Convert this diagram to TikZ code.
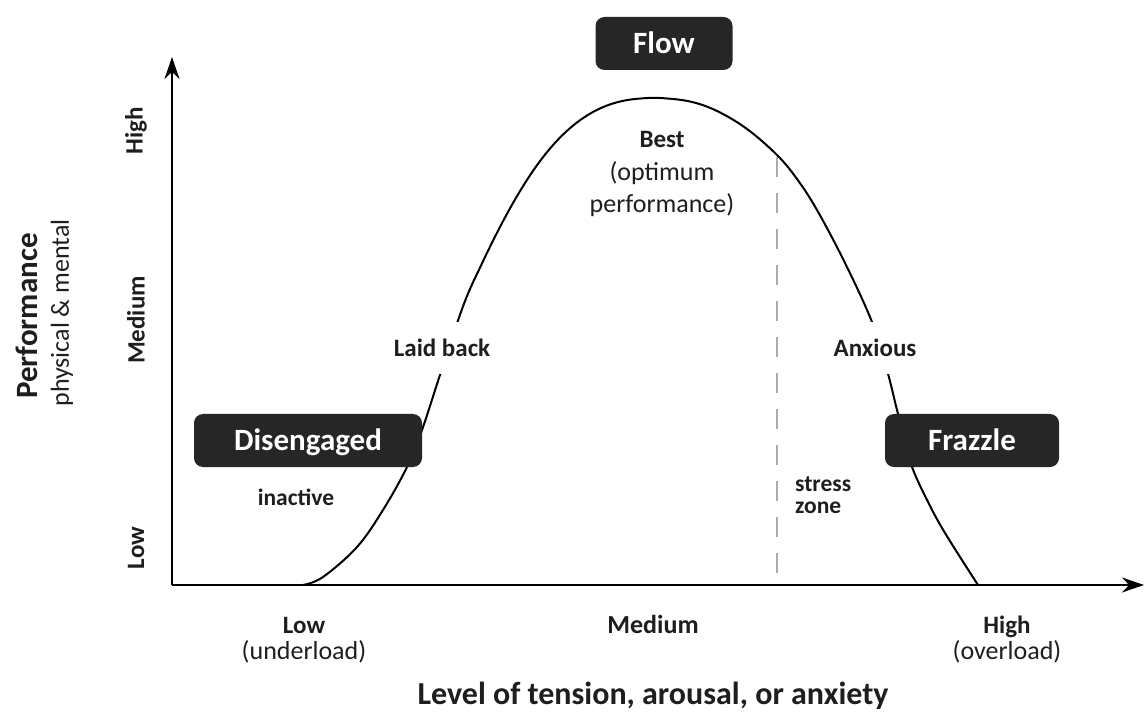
\documentclass[tikz,border=0pt]{standalone}
\usepackage{fontspec}
\setmainfont{Carlito}
\usetikzlibrary{arrows.meta}
\definecolor{boxfill}{HTML}{262626}
\definecolor{dashgray}{HTML}{ABABAB}
\definecolor{txt}{HTML}{1E1E1E}
\begin{document}
\begin{tikzpicture}[x=1pt,y=-1pt,
  darkbox/.style={fill=boxfill, rounded corners=9pt, text=white,
    font=\fontsize{31}{36}\selectfont\bfseries, minimum height=53pt,
    inner sep=0pt, text height=20pt, text depth=0pt},
  lbl/.style={text=txt, font=\fontsize{25}{30}\selectfont\bfseries, inner sep=0pt},
  small/.style={text=txt, font=\fontsize{23.5}{28}\selectfont\bfseries, inner sep=0pt},
  reg/.style={text=txt, font=\fontsize{26}{31}\selectfont, inner sep=0pt},
  cutlbl/.style={lbl, fill=white, inner xsep=2pt, minimum height=52pt},
  axisline/.style={line width=2.2pt, -{Stealth[length=22pt,width=15pt]}},
  curveline/.style={line width=2pt, line join=round},
  stressline/.style={dashgray, line width=2pt, dash pattern=on 20pt off 16pt},
]
\useasboundingbox (0,0) rectangle (1144,727);

% axes
\coordinate (O) at (172,585);
\coordinate (ytip) at (172,57);
\coordinate (xtip) at (1144,585);
\coordinate (stresstop) at (777,157);
\coordinate (stressbot) at (777,585);

% stress zone dashed line
\draw[stressline] (stresstop) -- (stressbot);

% performance curve
\draw[curveline] plot[smooth, tension=0.6] coordinates {
  (303,585) (323,577) (357,547) (383,510) (407,467) (422,430) (440,375)
  (463.7,304.5) (481.5,264.5) (499.4,228.1) (517.2,195.8) (535,168)
  (552.9,145.2) (570.75,127.5) (588.6,114.5) (606.5,105.7) (624.3,100.6)
  (642,98.4) (660,98) (690,101.5) (717,111)
  (747,129) (777,155) (797,179) (817,210) (845,263) (872,322) (887,370)
  (897,410) (905,440) (912,467) (927,500) (945,533) (978,585)};

\draw[axisline] (O) -- (ytip);
\draw[axisline] (O) -- (xtip);

% boxes
\node[darkbox, minimum width=137pt] (flow) at (664,43.5) {Flow};
\node[darkbox, minimum width=228pt] (dis) at (308,440.5) {Disengaged};
\node[darkbox, minimum width=174pt] (fraz) at (972,440.5) {Frazzle};

% curve labels
\node[cutlbl] (laid) at (442,348) {Laid back};
\node[cutlbl] (anx) at (875,348) {Anxious};
\node[lbl, anchor=base] (best) at (662,148) {Best};
\node[reg, anchor=base] (opt1) at (662,181) {(optimum};
\node[reg, anchor=base] (opt2) at (662,213) {performance)};
\node[small, anchor=base] (inact) at (296,505) {inactive};
\node[small, anchor=base west] (stress1) at (795,491) {stress};
\node[small, anchor=base west] (stress2) at (795,513) {zone};

% x-axis labels
\node[lbl, anchor=base] (xlow) at (304,633) {Low};
\node[reg, anchor=base] (xlow2) at (304,659) {(underload)};
\node[lbl, font=\fontsize{26}{31}\selectfont\bfseries, anchor=base] (xmed) at (653,633) {Medium};
\node[lbl, anchor=base] (xhigh) at (1007,633) {High};
\node[reg, anchor=base] (xhigh2) at (1007,659) {(overload)};
\node[text=txt, font=\fontsize{32}{38}\selectfont\bfseries, inner sep=0pt, anchor=base] (xtitle) at (653,704) {Level of tension, arousal, or anxiety};

% y-axis labels
\node[lbl, rotate=90] (yhigh) at (136,131) {High};
\node[lbl, rotate=90] (ymed) at (136,320) {Medium};
\node[lbl, rotate=90] (ylow) at (136,548) {Low};
\node[text=txt, font=\fontsize{31}{36}\selectfont\bfseries, inner sep=0pt, rotate=90] (ytitle) at (27,316) {Performance};
\node[reg, rotate=90] (ysub) at (62,313) {physical \& mental};
\end{tikzpicture}
\end{document}
